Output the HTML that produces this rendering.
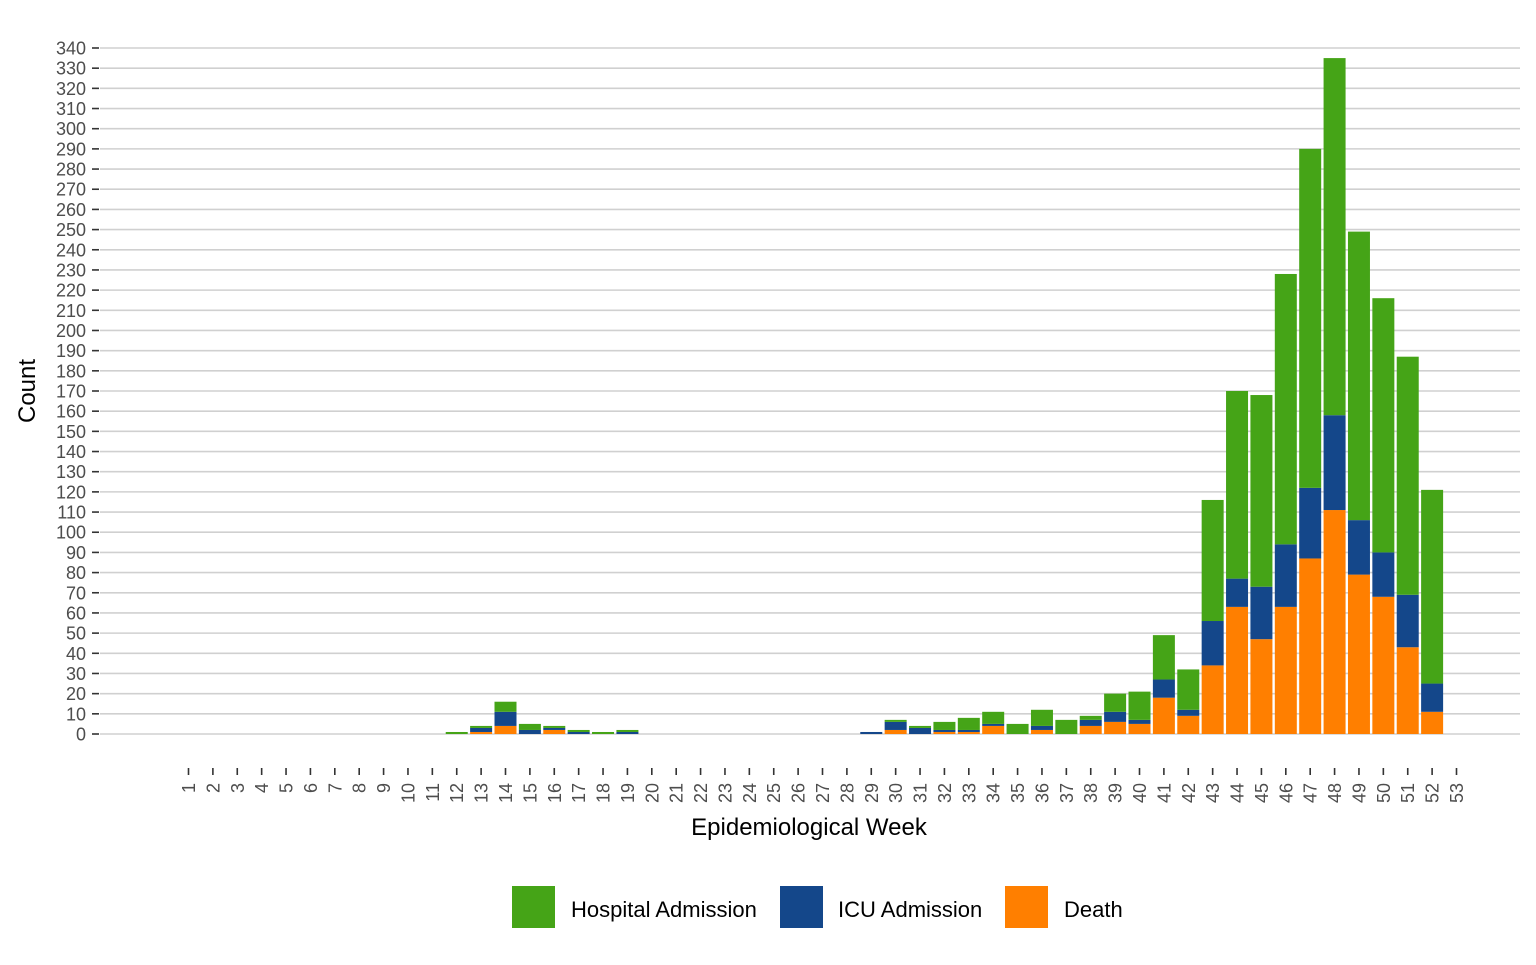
<!DOCTYPE html>
<html><head><meta charset="utf-8"><style>
body{margin:0;background:#fff}
svg text{font-family:"Liberation Sans",Arial,sans-serif}
</style></head><body>
<svg id="chart" width="1536" height="960" xmlns="http://www.w3.org/2000/svg">
<g id="grid"></g>
<g id="yaxis"></g>
<g id="xaxis"></g>
<g id="bars"></g>
<text transform="translate(35,391) rotate(-90)" text-anchor="middle" font-size="24" fill="#000">Count</text>
<text x="809" y="835" text-anchor="middle" font-size="24" fill="#000">Epidemiological Week</text>
<g>
<rect x="512" y="886" width="43" height="42" fill="#45A417"/>
<text x="571" y="917" font-size="22">Hospital Admission</text>
<rect x="780" y="886" width="43" height="42" fill="#14478A"/>
<text x="838" y="917" font-size="22">ICU Admission</text>
<rect x="1005" y="886" width="43" height="42" fill="#FF7F00"/>
<text x="1064" y="917" font-size="22">Death</text>
</g>
</svg>
<script>
const weeks = Array.from({length:53},(_,i)=>i+1);
const death    = [0,0,0,0,0,0,0,0,0,0,0,0,1,4,0,2,0,0,0,0,0,0,0,0,0,0,0,0,0,2,0,1,1,4,0,2,0,4,6,5,18,9,34,63,47,63,87,111,79,68,43,11,0];
const icu      = [0,0,0,0,0,0,0,0,0,0,0,0,2,7,2,1,1,0,1,0,0,0,0,0,0,0,0,0,1,4,3,1,1,1,0,2,0,3,5,2,9,3,22,14,26,31,35,47,27,22,26,14,0];
const hospital = [0,0,0,0,0,0,0,0,0,0,0,1,1,5,3,1,1,1,1,0,0,0,0,0,0,0,0,0,0,1,1,4,6,6,5,8,7,2,9,14,22,20,60,93,95,134,168,177,143,126,118,96,0];
const yTicks = Array.from({length:35},(_,i)=>i*10);
const NS='http://www.w3.org/2000/svg';
const y0=734, pxPer=686/340;
const yS=v=>y0-v*pxPer;
const xS=w=>188.5+(w-1)*1268/52;
const bw=22;
function mk(tag,attrs,parent){const e=document.createElementNS(NS,tag);for(const k in attrs)e.setAttribute(k,attrs[k]);parent.appendChild(e);return e;}
const grid=document.getElementById('grid'),ya=document.getElementById('yaxis'),xa=document.getElementById('xaxis'),bars=document.getElementById('bars');
yTicks.forEach(t=>{
  const l=mk('line',{x1:100,x2:1520,y1:yS(t),y2:yS(t),stroke:'#d0d0d0','stroke-width':1.6},grid);
  
  
  const tk=mk('line',{x1:92,x2:99,y1:yS(t),y2:yS(t),stroke:'#333','stroke-width':1.6},ya);
  
  
  const tx=mk('text',{x:86,y:yS(t)+6.5,'text-anchor':'end','font-size':18,fill:'#4d4d4d'},ya);
  tx.textContent=t;
  
  
});
weeks.forEach((w,i)=>{
  const x=xS(w);
  const tk=mk('line',{x1:x,x2:x,y1:768,y2:775,stroke:'#333','stroke-width':1.6},xa);
  
  
  const tx=mk('text',{transform:`translate(${x+6.5},783) rotate(-90)`,'text-anchor':'end','font-size':18,fill:'#4d4d4d'},xa);
  tx.textContent=w;
  
  
  let base=0;
  [[death[i],'#FF7F00','death'],[icu[i],'#14478A','icu'],[hospital[i],'#45A417','hospital']].forEach(([v,c,n])=>{
    if(v>0){
      const r=mk('rect',{x:x-bw/2,y:yS(base+v),width:bw,height:v*pxPer,fill:c},bars);
      
      
    }
    base+=v;
  });
});
</script>
</body></html>
